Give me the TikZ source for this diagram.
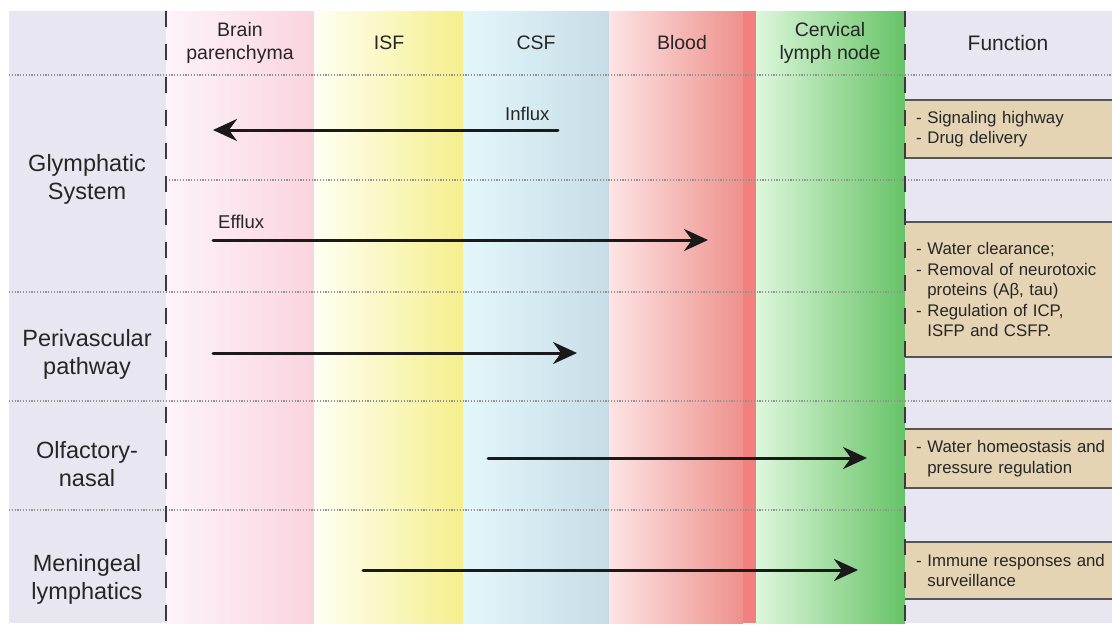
\documentclass[tikz,border=0pt]{standalone}
\usepackage{fontspec}
\setmainfont{Liberation Sans}
\usetikzlibrary{arrows.meta}
\definecolor{txt}{HTML}{262626}
\definecolor{arrowc}{HTML}{1A1A1A}
\definecolor{dotc}{HTML}{929292}
\definecolor{dashc}{HTML}{3A3A3A}
\definecolor{boxfill}{HTML}{E4D4B4}
\definecolor{boxline}{HTML}{555555}
\definecolor{lav}{HTML}{E8E6F0}
\definecolor{brainL}{HTML}{FDF3FA}
\definecolor{brainR}{HTML}{FAD4DF}
\definecolor{isfL}{HTML}{FFFFF3}
\definecolor{isfR}{HTML}{F5EF8C}
\definecolor{csfL}{HTML}{E3F7FB}
\definecolor{csfR}{HTML}{C7DCE6}
\definecolor{bloodL}{HTML}{FDE4E4}
\definecolor{bloodR}{HTML}{EE918C}
\definecolor{bloodS}{HTML}{F2807E}
\definecolor{cervL}{HTML}{DDF7DC}
\definecolor{cervR}{HTML}{66C366}
\begin{document}
\begin{tikzpicture}[x=1pt,y=-1pt,
  rowlabel/.style={font=\fontsize{23.5}{28}\selectfont, align=center, inner sep=0pt, text=txt},
  colhead/.style={font=\fontsize{19.5}{23}\selectfont, align=center, inner sep=0pt, text=txt},
  flowlabel/.style={font=\fontsize{18.5}{22}\selectfont, inner sep=0pt, anchor=base west, text=txt},
  funcbox/.style={fill=boxfill, anchor=west, inner xsep=11pt, inner ysep=0pt, text width=200pt, align=left,
    font=\fontsize{16.8}{20.5}\selectfont, text=txt},
  flow/.style={draw=arrowc, line width=3pt, line cap=round, -{Stealth[length=24pt,width=22pt,inset=8pt]}},
  sepline/.style={draw=dotc, line width=1.2pt, dash pattern=on 1.2pt off 1.6pt},
  divider/.style={draw=dashc, line width=1.6pt, dash pattern=on 16pt off 17pt},
  boxedge/.style={draw=boxline, line width=2pt}
]
\useasboundingbox (0,0) rectangle (1112,625);
\fill[white] (0,0) rectangle (1112,625);
% column bands
\fill[lav] (9,11) rectangle (166,623);
\fill[left color=brainL, right color=brainR] (166,11) rectangle (314,623);
\fill[left color=isfL, right color=isfR] (314,11) rectangle (463,623);
\fill[left color=csfL, right color=csfR] (463,11) rectangle (609,623);
\fill[left color=bloodL, right color=bloodR] (609,11) rectangle (743,623);
\fill[bloodS] (743,11) rectangle (756,623);
\fill[left color=cervL, right color=cervR] (756,11) rectangle (905,623);
\fill[lav] (905,11) rectangle (1112,623);
% dotted separators
\draw[sepline] (9,75) -- (1112,75);
\draw[sepline] (166,180) -- (1112,180);
\draw[sepline] (9,292) -- (905,292);
\draw[sepline] (9,401) -- (1112,401);
\draw[sepline] (9,510) -- (905,510);
% function boxes
\node[funcbox, minimum height=58pt] (f1) at (905,129)
  {- Signaling highway\\- Drug delivery};
\node[funcbox, minimum height=135pt] (f2) at (905,289.5)
  {- Water clearance;\\- Removal of neurotoxic\\\phantom{- }proteins (Aβ, tau)\\- Regulation of ICP,\\\phantom{- }ISFP and CSFP.};
\node[funcbox, minimum height=59pt] (f3) at (905,458.5)
  {- Water homeostasis and\\\phantom{- }pressure regulation};
\node[funcbox, minimum height=57pt] (f4) at (905,570.5)
  {- Immune responses and\\\phantom{- }surveillance};
\foreach \b in {f1,f2,f3,f4}{
  \draw[boxedge] (\b.north west) -- (\b.north east);
  \draw[boxedge] (\b.south west) -- (\b.south east);
}
% dashed dividers
\coordinate (dl1) at (166,11); \coordinate (dl2) at (166,623);
\coordinate (dr1) at (905,11); \coordinate (dr2) at (905,623);
\draw[divider] (dl1) -- (dl2);
\draw[divider] (dr1) -- (dr2);
% headers
\node[colhead] (hbrain) at (240,43) {Brain\\parenchyma};
\node[colhead, anchor=base] (hisf) at (389,49) {ISF};
\node[colhead, anchor=base] (hcsf) at (536,49) {CSF};
\node[colhead, anchor=base] (hblood) at (682,49) {Blood};
\node[colhead] (hcerv) at (830,43) {Cervical\\lymph node};
\node[colhead, font=\fontsize{21}{25}\selectfont, anchor=base] (hfunc) at (1008,50) {Function};
% row labels
\node[rowlabel] (glym) at (87,179) {Glymphatic\\System};
\node[rowlabel] (peri) at (87,354) {Perivascular\\pathway};
\node[rowlabel] (olf) at (87,464) {Olfactory-\\nasal};
\node[rowlabel] (men) at (87,579) {Meningeal\\lymphatics};
% flows
\coordinate (inS) at (558,130); \coordinate (inE) at (213,130);
\coordinate (efS) at (213,240); \coordinate (efE) at (708,240);
\coordinate (pvS) at (213,353); \coordinate (pvE) at (577,353);
\coordinate (onS) at (488,458); \coordinate (onE) at (867,458);
\coordinate (mlS) at (363,570); \coordinate (mlE) at (858,570);
\draw[flow] (inS) -- (inE);
\draw[flow] (efS) -- (efE);
\draw[flow] (pvS) -- (pvE);
\draw[flow] (onS) -- (onE);
\draw[flow] (mlS) -- (mlE);
\node[flowlabel] (influx) at (505,120) {Influx};
\node[flowlabel] (efflux) at (218,228) {Efflux};
\end{tikzpicture}
\end{document}
